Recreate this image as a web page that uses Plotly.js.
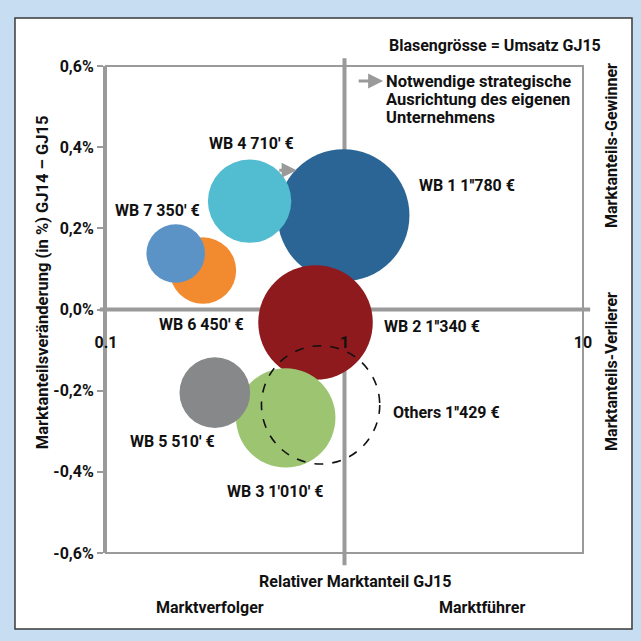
<!DOCTYPE html>
<html>
<head>
<meta charset="utf-8">
<script src="https://cdn.plot.ly/plotly-3.0.1.min.js"></script>
<style>
  html, body { margin: 0; padding: 0; background: #c7ddf1; }
  #chart { width: 641px; height: 641px; }
</style>
</head>
<body>
<div id="chart"></div>
<script>
// ---- data (draw order: later entries on top) ----
const names       = ['WB 1', 'WB 2', 'WB 3', 'WB 5', 'WB 4', 'WB 6', 'WB 7'];
const relShare    = [0.99, 0.756, 0.567, 0.286, 0.40, 0.255, 0.196];   // Relativer Marktanteil GJ15
const shareChange = [0.232, -0.032, -0.267, -0.205, 0.267, 0.096, 0.138]; // Marktanteilsveränderung in %
const revenue     = [1780, 1340, 1010, 510, 710, 450, 350];              // Umsatz GJ15 (Tsd. €)
const labels      = ["WB 1 1''780 €", "WB 2 1''340 €", "WB 3 1'010' €", "WB 5 510' €",
                     "WB 4 710' €", "WB 6 450' €", "WB 7 350' €"];

const othersShare = 0.794;
const othersChange = -0.235;
const othersRevenue = 1429;
const othersLabel = "Others 1''429 €";

const xTickVals = [0.1, 1, 10];
const xTickText = ['0.1', '1', '10'];
const yTickVals = [-0.6, -0.4, -0.2, 0, 0.2, 0.4, 0.6];
const yTickText = ['-0,6%', '-0,4%', '-0,2%', '0,0%', '0,2%', '0,4%', '0,6%'];

const legendLines = ['Notwendige strategische', 'Ausrichtung des eigenen', 'Unternehmens'];

// ---- styles ----
const colors = ['#2a6595', '#8f1a1e', '#9dc471', '#87888a', '#52bcd0', '#f28a30', '#5b93c7'];
const labelOffsets = [[74, 30], [66, -4], [-61, -74], [-87, -49], [-43, 58], [-46, -54], [-63, 43]];
const othersOffset = [70, -8];
const FONT = "Roboto, 'Liberation Sans', sans-serif";
const FW = 'bold';
const FS = 16;
const GRAY = '#9a9a9a';
const TXT = '#111111';
const W = 641, H = 641;
const M = { l: 106, r: 58, t: 66, b: 88, pad: 0 };
const xRange = [-1, 1], yRange = [-0.6, 0.6];
const sizeref = Math.max(...revenue) / (2 * 66 * 66);
const radiusOf = v => Math.sqrt(v / (2 * sizeref));
const font = (size, weight) => ({ family: FONT, size: size || FS, color: TXT, weight: weight || FW });

const trace = {
  type: 'scatter',
  mode: 'markers',
  x: relShare,
  y: shareChange,
  text: names,
  marker: {
    size: revenue,
    sizemode: 'area',
    sizeref: sizeref,
    color: colors,
    opacity: 1,
    line: { width: 0 }
  },
  hoverinfo: 'text'
};

const annotations = [];
labels.forEach((t, i) => {
  annotations.push({
    xref: 'x', yref: 'y', x: Math.log10(relShare[i]), y: shareChange[i],
    text: t, showarrow: false, xanchor: 'left', yanchor: 'middle',
    xshift: labelOffsets[i][0], yshift: labelOffsets[i][1], font: font()
  });
});
annotations.push({
  xref: 'x', yref: 'y', x: Math.log10(othersShare), y: othersChange,
  text: othersLabel, showarrow: false, xanchor: 'left', yanchor: 'middle',
  xshift: othersOffset[0], yshift: othersOffset[1], font: font()
});
// arrow between WB 4 and WB 1
annotations.push({
  xref: 'x', yref: 'y', x: Math.log10(0.63), y: 0.343,
  ax: Math.log10(0.525), ay: 0.343, axref: 'x', ayref: 'y',
  text: '', showarrow: true, arrowhead: 2, arrowsize: 1, arrowwidth: 3, arrowcolor: GRAY
});
// legend arrow + text (line spacing from a 14px base, glyphs drawn at 16.5px)
annotations.push({
  xref: 'paper', yref: 'paper', x: 0.581, y: 0.969, ax: -26, ay: 0,
  text: '', showarrow: true, arrowhead: 2, arrowsize: 1, arrowwidth: 3, arrowcolor: GRAY
});
annotations.push({
  xref: 'paper', yref: 'paper', x: 0.582, y: 0.992, xanchor: 'left', yanchor: 'top', align: 'left',
  text: legendLines.map(t => '<span style="font-size:16.5px">' + t + '</span>').join('<br>'),
  showarrow: false, font: font(14)
});
const plain = (x, y, text, opts) => Object.assign({
  xref: 'paper', yref: 'paper', x: x, y: y, text: text, showarrow: false,
  xanchor: 'center', yanchor: 'middle', font: font()
}, opts || {});
annotations.push(plain(1.042, 1.043, 'Blasengrösse = Umsatz GJ15', { xanchor: 'right' }));
annotations.push(plain(-0.134, 0.556, 'Marktanteilsveränderung (in %) GJ14 – GJ15', { textangle: -90, font: font(16.5) }));
annotations.push(plain(1.061, 0.836, 'Marktanteils-Gewinner', { textangle: -90 }));
annotations.push(plain(1.061, 0.372, 'Marktanteils-Verlierer', { textangle: -90 }));
annotations.push(plain(0.522, -0.0575, 'Relativer Marktanteil GJ15'));
annotations.push(plain(0.218, -0.111, 'Marktverfolger'));
annotations.push(plain(0.788, -0.111, 'Marktführer'));

// Others bubble outline: same radius rule as the markers, converted through the axis scales
const rOthers = radiusOf(othersRevenue);
const pxPerDecade = (W - M.l - M.r) / (xRange[1] - xRange[0]);
const pxPerUnitY = (H - M.t - M.b) / (yRange[1] - yRange[0]);
const oX0 = othersShare * Math.pow(10, -rOthers / pxPerDecade);
const oX1 = othersShare * Math.pow(10, rOthers / pxPerDecade);
const oY0 = othersChange - rOthers / pxPerUnitY;
const oY1 = othersChange + rOthers / pxPerUnitY;

const layout = {
  width: W, height: H,
  margin: M,
  paper_bgcolor: '#c7ddf1',
  plot_bgcolor: 'rgba(0,0,0,0)',
  showlegend: false,
  font: font(),
  xaxis: {
    type: 'log', range: xRange, anchor: 'free', position: 0.455,
    showline: false, showgrid: false, zeroline: false, ticks: '',
    tickvals: xTickVals, ticktext: xTickText, tickfont: font(),
    fixedrange: true
  },
  yaxis: {
    range: yRange, showline: true, linecolor: GRAY, linewidth: 3,
    ticks: 'outside', ticklen: 6, tickwidth: 2, tickcolor: GRAY,
    tickvals: yTickVals, ticktext: yTickText, tickfont: font(),
    showgrid: false, zeroline: false, fixedrange: true
  },
  shapes: [
    // white panel
    { type: 'rect', xref: 'paper', yref: 'paper', x0: -0.1908, x1: 1.1027, y0: -0.156, y1: 1.0986,
      fillcolor: '#ffffff', line: { color: '#3a3a3a', width: 1.5 }, layer: 'below' },
    // plot box
    { type: 'rect', xref: 'paper', yref: 'paper', x0: 0, x1: 1, y0: 0, y1: 1,
      line: { color: GRAY, width: 2 }, layer: 'below' },
    // zero line
    { type: 'line', xref: 'paper', yref: 'y', x0: -0.013, x1: 1.015, y0: 0, y1: 0,
      line: { color: GRAY, width: 4 }, layer: 'below' },
    // relative share = 1
    { type: 'line', xref: 'x', yref: 'paper', x0: 1, x1: 1, y0: -0.025, y1: 1.016,
      line: { color: GRAY, width: 4 }, layer: 'below' },
    // Others bubble (dashed)
    { type: 'circle', xref: 'x', yref: 'y', x0: oX0, x1: oX1, y0: oY0, y1: oY1,
      line: { color: '#111111', width: 1.6, dash: 'dash' }, fillcolor: 'rgba(0,0,0,0)', layer: 'above' }
  ],
  annotations: annotations
};

Plotly.newPlot('chart', [trace], layout, { displayModeBar: false, staticPlot: true });
</script>
</body>
</html>
